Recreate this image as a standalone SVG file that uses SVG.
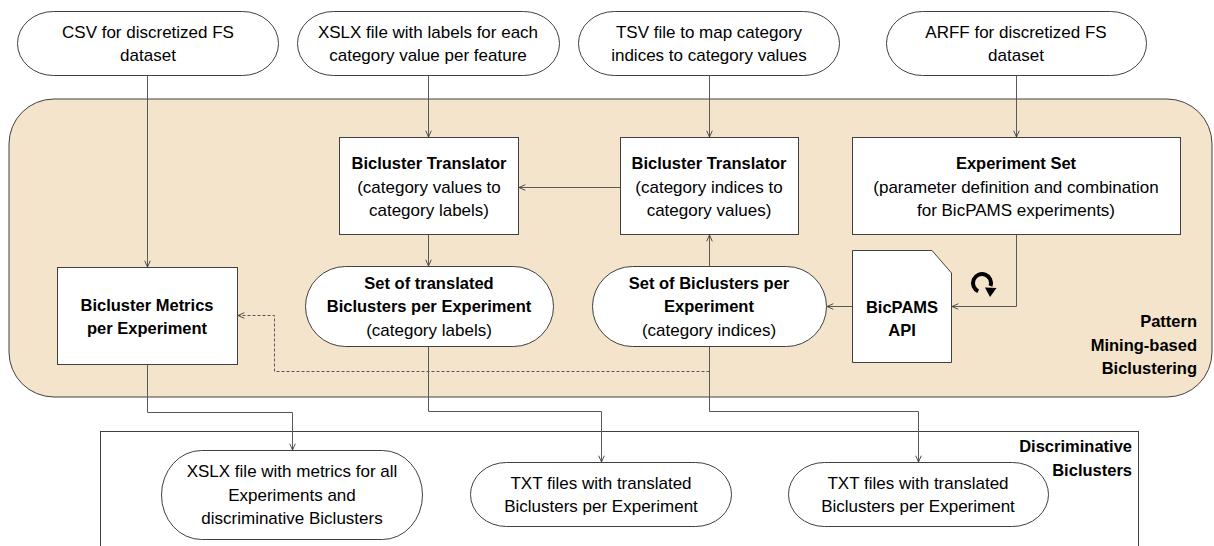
<svg xmlns="http://www.w3.org/2000/svg" width="1214" height="546" viewBox="0 0 1214 546">
  <style>
    text { font-family: "Liberation Sans", Arial, sans-serif; font-size: 17px; fill: #000; text-anchor: middle; }
    .b { font-weight: bold; font-size: 16.5px; }
    .r { text-anchor: end; }
    .node { fill: #fff; stroke: #404040; stroke-width: 1; }
    .area { fill: #F5E4CC; stroke: #404040; stroke-width: 1; }
    .conn { fill: none; stroke: #595959; stroke-width: 1; }
    .dash { stroke-dasharray: 3 2; }
  </style>
  <defs>
    <marker id="arr" viewBox="0 0 10 10" refX="10" refY="5" markerWidth="7" markerHeight="7" markerUnits="userSpaceOnUse" orient="auto">
      <path d="M1,1 L10,5 L1,9" fill="none" stroke="#404040" stroke-width="1.3"/>
    </marker>
  </defs>

  <!-- Container areas -->
  <g id="pattern-mining">
    <rect class="area" x="9" y="99" width="1203" height="298" rx="45" ry="45"/>
    <text class="b r" x="1197" y="327">Pattern</text>
    <text class="b r" x="1197" y="351">Mining-based</text>
    <text class="b r" x="1197" y="374">Biclustering</text>
  </g>
  <g id="discriminative">
    <rect class="node" x="100.5" y="431.5" width="1038" height="140"/>
    <text class="b r" x="1132" y="452">Discriminative</text>
    <text class="b r" x="1132" y="476">Biclusters</text>
  </g>

  <!-- Input files -->
  <g id="csv-input">
    <rect class="node" x="17.5" y="11.5" width="261" height="64" rx="36" ry="32"/>
    <text x="148" y="38">CSV for discretized FS</text>
    <text x="148" y="61">dataset</text>
  </g>
  <g id="xslx-labels">
    <rect class="node" x="297.5" y="11.5" width="262" height="64" rx="36" ry="32"/>
    <text x="428" y="38">XSLX file with labels for each</text>
    <text x="428" y="61">category value per feature</text>
  </g>
  <g id="tsv-map">
    <rect class="node" x="578.5" y="11.5" width="261" height="64" rx="36" ry="32"/>
    <text x="709" y="38">TSV file to map category</text>
    <text x="709" y="61">indices to category values</text>
  </g>
  <g id="arff-input">
    <rect class="node" x="886.5" y="11.5" width="260" height="64" rx="36" ry="32"/>
    <text x="1016" y="38">ARFF for discretized FS</text>
    <text x="1016" y="61">dataset</text>
  </g>

  <!-- Processing steps -->
  <g id="translator-labels">
    <rect class="node" x="339.5" y="137.5" width="179" height="97"/>
    <text class="b" x="429" y="169">Bicluster Translator</text>
    <text x="429" y="193">(category values to</text>
    <text x="429" y="216">category labels)</text>
  </g>
  <g id="translator-values">
    <rect class="node" x="620.5" y="137.5" width="178" height="97"/>
    <text class="b" x="709" y="169">Bicluster Translator</text>
    <text x="709" y="193">(category indices to</text>
    <text x="709" y="216">category values)</text>
  </g>
  <g id="experiment-set">
    <rect class="node" x="852.5" y="137.5" width="328" height="97"/>
    <text class="b" x="1016" y="169">Experiment Set</text>
    <text x="1016" y="193">(parameter definition and combination</text>
    <text x="1016" y="216">for BicPAMS experiments)</text>
  </g>
  <g id="metrics">
    <rect class="node" x="57.5" y="267.5" width="180" height="97"/>
    <text class="b" x="147" y="311">Bicluster Metrics</text>
    <text class="b" x="147" y="334">per Experiment</text>
  </g>
  <g id="translated-set">
    <rect class="node" x="305.5" y="266.5" width="248" height="80" rx="40" ry="40"/>
    <text class="b" x="429" y="289">Set of translated</text>
    <text class="b" x="429" y="312">Biclusters per Experiment</text>
    <text x="429" y="336">(category labels)</text>
  </g>
  <g id="bicluster-set">
    <rect class="node" x="592.5" y="266.5" width="234" height="80" rx="40" ry="40"/>
    <text class="b" x="709" y="289">Set of Biclusters per</text>
    <text class="b" x="709" y="312">Experiment</text>
    <text x="709" y="336">(category indices)</text>
  </g>
  <g id="bicpams-api">
    <path class="node" d="M852.5,250.5 H932 L951.5,273 V362.5 H852.5 Z"/>
    <text class="b" x="902" y="313">BicPAMS</text>
    <text class="b" x="902" y="336">API</text>
  </g>
  <g id="loop-icon">
    <path d="M978.2,291.2 A9,9 0 1 1 990.5,286" fill="none" stroke="#000" stroke-width="4"/>
    <polygon points="985,287.5 996.5,288 990,297" fill="#000"/>
  </g>

  <!-- Outputs -->
  <g id="metrics-xslx">
    <rect class="node" x="161.5" y="450.5" width="261" height="89" rx="40" ry="44.5"/>
    <text x="292" y="477">XSLX file with metrics for all</text>
    <text x="292" y="501">Experiments and</text>
    <text x="292" y="524">discriminative Biclusters</text>
  </g>
  <g id="txt-labels">
    <rect class="node" x="470.5" y="462.5" width="261" height="64" rx="36" ry="32"/>
    <text x="601" y="489">TXT files with translated</text>
    <text x="601" y="512">Biclusters per Experiment</text>
  </g>
  <g id="txt-indices">
    <rect class="node" x="788.5" y="462.5" width="260" height="64" rx="36" ry="32"/>
    <text x="918" y="489">TXT files with translated</text>
    <text x="918" y="512">Biclusters per Experiment</text>
  </g>

  <!-- Connectors -->
  <g id="connectors">
    <path class="conn" d="M147.5,75.5 V267" marker-end="url(#arr)"/>
    <path class="conn" d="M428.5,75.5 V137" marker-end="url(#arr)"/>
    <path class="conn" d="M709.5,75.5 V137" marker-end="url(#arr)"/>
    <path class="conn" d="M1016.5,75.5 V137" marker-end="url(#arr)"/>
    <path class="conn" d="M620,187.5 H519" marker-end="url(#arr)"/>
    <path class="conn" d="M428.5,234.5 V266" marker-end="url(#arr)"/>
    <path class="conn" d="M709.5,266.5 V235" marker-end="url(#arr)"/>
    <path class="conn" d="M1016.5,234.5 V306.5 H952" marker-end="url(#arr)"/>
    <path class="conn" d="M852.5,306.5 H827" marker-end="url(#arr)"/>
    <path class="conn dash" d="M709.5,371.5 H274.5 V315.5 H238" marker-end="url(#arr)"/>
    <path class="conn" d="M147.5,364.5 V412.5 H292.5 V450" marker-end="url(#arr)"/>
    <path class="conn" d="M428.5,346.5 V411.5 H601.5 V462" marker-end="url(#arr)"/>
    <path class="conn" d="M709.5,346.5 V411.5 H918.5 V462" marker-end="url(#arr)"/>
  </g>
</svg>
